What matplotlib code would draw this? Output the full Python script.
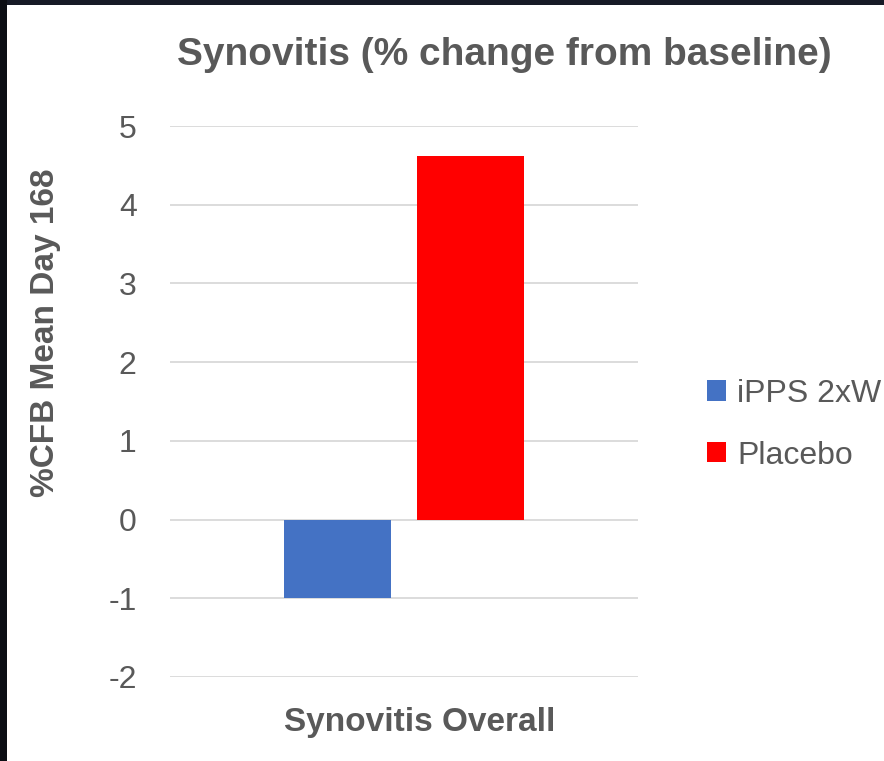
import matplotlib
matplotlib.use("Agg")
import matplotlib.pyplot as plt
from matplotlib.patches import Rectangle
from matplotlib.transforms import blended_transform_factory

plt.rcParams['font.family'] = ['Liberation Sans', 'DejaVu Sans']

categories = ["Synovitis Overall"]
series_names = ["iPPS 2xW", "Placebo"]
series_values = [[-1.0], [4.62]]
series_colors = ["#4472C4", "#FF0000"]
y_ticks = [-2, -1, 0, 1, 2, 3, 4, 5]

TEXT = "#595959"

fig = plt.figure(figsize=(8.84, 7.61), dpi=100)
fig.patch.set_facecolor("white")

# dark frame strips along the top and left edges
fig.patches.append(Rectangle((0, 1 - 5 / 761), 1, 5 / 761, transform=fig.transFigure,
                             facecolor="#161a26", edgecolor="none", zorder=10))
fig.patches.append(Rectangle((0, 0), 7 / 884, 1, transform=fig.transFigure,
                             facecolor="#0c0e14", edgecolor="none", zorder=10))

ax = fig.add_axes([170 / 884, 1 - 677 / 761, (638 - 170) / 884, (677 - 126) / 761])

width = 0.227
offsets = [-0.142, 0.142]
for name, vals, col, off in zip(series_names, series_values, series_colors, offsets):
    xs = [i + off for i in range(len(categories))]
    ax.bar(xs, vals, width=width, color=col, label=name, zorder=3)

ax.set_xlim(-0.5, len(categories) - 0.5)
ax.set_ylim(min(y_ticks), max(y_ticks))
ax.set_yticks(y_ticks)
ax.set_yticklabels([str(t) for t in y_ticks])
ax.set_xticks([])

# category labels below the plot area
trans = blended_transform_factory(ax.transData, ax.transAxes)
for i, cat in enumerate(categories):
    ax.annotate(cat, xy=(i, 0), xycoords=trans, xytext=(11, -33),
                textcoords="offset points", ha="center", va="center",
                fontsize=24, fontweight="bold", color=TEXT)

ax.grid(axis="y", color="#d9d9d9", linewidth=1.3, zorder=0)
ax.set_axisbelow(True)
for s in ax.spines.values():
    s.set_visible(False)
ax.tick_params(axis="both", length=0)
ax.tick_params(axis="y", labelsize=23, labelcolor=TEXT, pad=24)

ax.set_ylabel("%CFB Mean Day 168", fontsize=24, fontweight="bold", color=TEXT)
ax.yaxis.set_label_coords(-0.232, 0.624)
fig.text(504 / 884, 1 - 55 / 761, "Synovitis (% change from baseline)", fontsize=28,
         fontweight="bold", color=TEXT, ha="center", va="center")

ax.legend(loc="center left", bbox_to_anchor=(1.12, 0.458), frameon=False, fontsize=23,
          handlelength=0.6, handleheight=0.6, handletextpad=0.35, labelspacing=1.0,
          borderaxespad=0, labelcolor=TEXT)

fig.savefig("out.png", dpi=100, facecolor="white")
